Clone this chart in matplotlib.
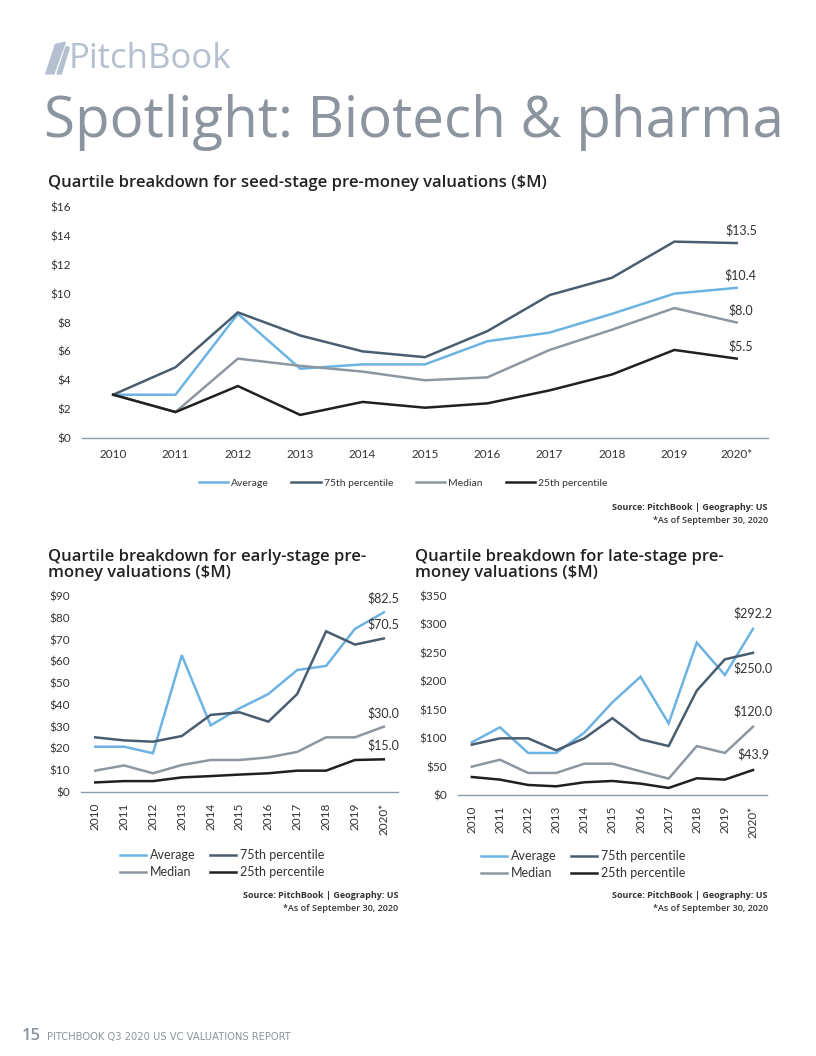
import matplotlib.pyplot as plt
from matplotlib.patches import Polygon
import numpy as np

years = ['2010', '2011', '2012', '2013', '2014', '2015', '2016', '2017', '2018', '2019', '2020*']
series_names = ['Average', '75th percentile', 'Median', '25th percentile']

# seed-stage ($M)
seed_avg = [3.0, 3.0, 8.6, 4.8, 5.1, 5.1, 6.7, 7.3, 8.6, 10.0, 10.4]
seed_p75 = [3.0, 4.9, 8.7, 7.1, 6.0, 5.6, 7.4, 9.9, 11.1, 13.6, 13.5]
seed_med = [3.0, 1.8, 5.5, 5.0, 4.6, 4.0, 4.2, 6.1, 7.5, 9.0, 8.0]
seed_p25 = [3.0, 1.8, 3.6, 1.6, 2.5, 2.1, 2.4, 3.3, 4.4, 6.1, 5.5]

# early-stage ($M)
early_avg = [20.8, 20.8, 17.8, 62.8, 30.6, 38.4, 45.0, 56.0, 57.9, 74.9, 82.5]
early_p75 = [25.1, 23.7, 23.1, 25.7, 35.4, 36.6, 32.3, 45.0, 73.8, 67.7, 70.5]
early_med = [9.8, 12.2, 8.6, 12.4, 14.7, 14.7, 15.9, 18.4, 25.1, 25.1, 30.0]
early_p25 = [4.4, 5.0, 5.0, 6.7, 7.3, 8.0, 8.6, 9.8, 9.8, 14.7, 15.0]

# late-stage ($M)
late_avg = [92.6, 119.0, 73.9, 73.9, 109.6, 163.0, 208.0, 126.0, 268.0, 211.0, 292.2]
late_p75 = [88.5, 99.6, 99.6, 78.5, 99.6, 135.0, 97.9, 86.0, 183.5, 238.6, 250.0]
late_med = [49.8, 62.0, 38.7, 38.7, 55.0, 55.0, 41.6, 28.7, 86.0, 73.9, 120.0]
late_p25 = [31.6, 27.0, 17.6, 15.2, 22.3, 24.6, 19.9, 12.3, 29.3, 27.0, 43.9]

colors = ['#6db3e2', '#4a5d70', '#8e97a1', '#202020']
axis_col = '#8d9bad'
text_col = '#333333'
head_col = '#8b949f'
title_font = ['Open Sans', 'DejaVu Sans']

plt.rcParams['font.family'] = ['Lato', 'DejaVu Sans']

fig = plt.figure(figsize=(8.16, 10.56), dpi=100)


def draw_panel(ax, data, ymax, ystep, rotate, label_offsets):
    x = np.arange(len(years))
    lines = []
    for vals, c in zip(data, colors):
        ln, = ax.plot(x, vals, color=c, lw=1.8, solid_joinstyle='miter')
        lines.append(ln)
    for vals, off in zip(data, label_offsets):
        v = vals[-1]
        ax.annotate('${:.1f}'.format(v), (x[-1], v), xytext=off, textcoords='offset points',
                    ha='center', va='center', fontsize=9, color=text_col)
    ax.set_xlim(-0.5, len(years) - 0.5)
    ax.set_ylim(0, ymax)
    ticks = np.arange(0, ymax + 1, ystep)
    ax.set_yticks(ticks)
    ax.set_yticklabels(['$' + str(int(t)) for t in ticks])
    ax.set_xticks(x)
    ax.set_xticklabels(years, rotation=90 if rotate else 0)
    for s in ['top', 'right', 'left']:
        ax.spines[s].set_visible(False)
    ax.spines['bottom'].set_color(axis_col)
    ax.spines['bottom'].set_linewidth(1.0)
    ax.tick_params(length=0, labelsize=8.5, colors=text_col, pad=8)
    return lines


def small_legend(ax, lines, xc, yc):
    # row-wise order: Average, 75th / Median, 25th
    order = [0, 2, 1, 3]
    ax.legend([lines[i] for i in order], [series_names[i] for i in order],
              loc='upper center', bbox_to_anchor=(xc, yc), ncol=2, frameon=False,
              fontsize=9, handlelength=2.1, columnspacing=1.2, handletextpad=0.3,
              labelspacing=0.4, labelcolor=text_col)


def source_note(xr, y):
    fig.text(xr, y, 'Source: PitchBook | Geography: US', fontsize=6.5, fontweight='bold',
             color='#333333', ha='right', family=title_font)
    fig.text(xr, y - 0.0123, '*As of September 30, 2020', fontsize=6.5, fontweight='semibold',
             color='#333333', ha='right', family=title_font)


# header
fig.text(0.084, 0.944, 'PitchBook', fontsize=25, color='#b4c0cf', family=title_font,
         va='center', ha='left')
fig.patches.append(Polygon([[0.056, 0.930], [0.068, 0.958], [0.080, 0.960], [0.066, 0.930]],
                           closed=True, transform=fig.transFigure, color='#b4c0cf'))
fig.patches.append(Polygon([[0.070, 0.930], [0.081, 0.956], [0.085, 0.955], [0.075, 0.930]],
                           closed=True, transform=fig.transFigure, color='#b4c0cf'))
fig.text(0.054, 0.884, 'Spotlight: Biotech & pharma', fontsize=40.7, color=head_col,
         family=title_font, va='center', ha='left')

# seed chart
fig.text(0.059, 0.827, 'Quartile breakdown for seed-stage pre-money valuations ($M)', fontsize=12,
         fontweight='semibold', color='#222222', family=title_font, va='center')
ax1 = fig.add_axes([0.1005, 0.5852, 0.8405, 0.2188])
lines = draw_panel(ax1, [seed_avg, seed_p75, seed_med, seed_p25], 16, 2,
                   False, [(3, 9), (3, 9), (3, 9), (3, 9)])
ax1.legend(lines, series_names, loc='upper center', bbox_to_anchor=(0.468, -0.135), ncol=4,
           frameon=False, fontsize=7.5, handlelength=2.8, columnspacing=2.2, handletextpad=0.3,
           labelcolor=text_col)
source_note(0.941, 0.5175)

# early chart
fig.text(0.059, 0.465, 'Quartile breakdown for early-stage pre-\nmoney valuations ($M)', fontsize=12,
         fontweight='semibold', color='#222222', family=title_font, va='center',
         linespacing=1.0)
ax2 = fig.add_axes([0.099, 0.25, 0.389, 0.1856])
lines = draw_panel(ax2, [early_avg, early_p75, early_med, early_p25], 90, 10,
                   True, [(0, 10), (0, 10), (0, 10), (0, 10)])
small_legend(ax2, lines, 0.445, -0.235)
source_note(0.488, 0.1495)

# late chart
fig.text(0.509, 0.465, 'Quartile breakdown for late-stage pre-\nmoney valuations ($M)', fontsize=12,
         fontweight='semibold', color='#222222', family=title_font, va='center',
         linespacing=1.0)
ax3 = fig.add_axes([0.561, 0.2472, 0.379, 0.1884])
lines = draw_panel(ax3, [late_avg, late_p75, late_med, late_p25], 350, 50,
                   True, [(0, 11), (0, -11), (0, 11), (0, 11)])
small_legend(ax3, lines, 0.405, -0.22)
source_note(0.941, 0.1495)

# footer
fig.text(0.027, 0.019, '15', fontsize=12, color=head_col, family=title_font,
         fontweight='semibold', va='center')
fig.text(0.058, 0.018, 'PITCHBOOK Q3 2020 US VC VALUATIONS REPORT', fontsize=7.2, color=head_col,
         family=['DejaVu Sans'], va='center')

fig.savefig('out.png', dpi=100)
